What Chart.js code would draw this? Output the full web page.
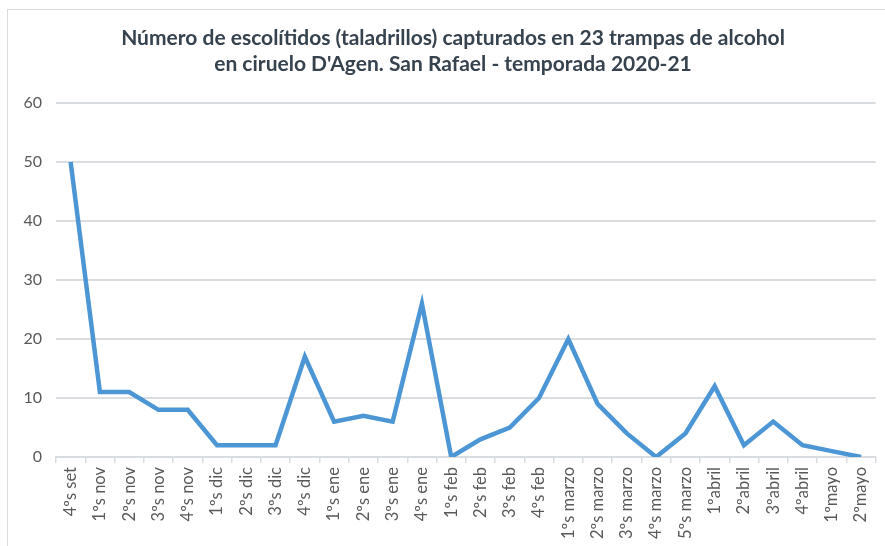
<!DOCTYPE html>
<html>
<head>
<meta charset="utf-8">
<script src="https://cdn.jsdelivr.net/npm/chart.js@4/dist/chart.umd.min.js"></script>
<style>
  html, body { margin: 0; padding: 0; background: #fff; }
  #wrap { position: relative; width: 885px; height: 546px; overflow: hidden; }
  #frame { position: absolute; left: 7px; top: 9px; width: 900px; height: 560px;
           border: 1.5px solid #d9dde2; box-sizing: border-box; }
  canvas { position: absolute; left: 0; top: 0; }
</style>
</head>
<body>
<div id="wrap">
  <div id="frame"></div>
  <canvas id="chart" width="885" height="546"></canvas>
</div>
<script>
// ── Data ─────────────────────────────────────
const weeks = [
  '4ºs set', '1ºs nov', '2ºs nov', '3ºs nov', '4ºs nov',
  '1ºs dic', '2ºs dic', '3ºs dic', '4ºs dic',
  '1ºs ene', '2ºs ene', '3ºs ene', '4ºs ene',
  '1ºs feb', '2ºs feb', '3ºs feb', '4ºs feb',
  '1ºs marzo', '2ºs marzo', '3ºs marzo', '4ºs marzo', '5ºs marzo',
  '1ºabril', '2ºabril', '3ºabril', '4ºabril',
  '1ºmayo', '2ºmayo'
];
const captures = [
  50, 11, 11, 8, 8,
  2, 2, 2, 17,
  6, 7, 6, 26,
  0, 3, 5, 10,
  20, 9, 4, 0, 4,
  12, 2, 6, 2,
  1, 0
];
const titleLines = [
  'Número de escolítidos (taladrillos) capturados en 23 trampas de alcohol',
  "en ciruelo D'Agen. San Rafael - temporada 2020-21"
];

const GRID = '#d9dde2';
const TEXT = '#595959';

// ── Chart ────────────────────────────────────
const ctx = document.getElementById('chart').getContext('2d');
new Chart(ctx, {
  type: 'line',
  data: {
    labels: weeks,
    datasets: [{
      data: captures,
      borderColor: '#4d96d5',
      borderWidth: 4.5,
      pointRadius: 0,
      tension: 0,
      fill: false
    }]
  },
  options: {
    responsive: false,
    animation: false,
    // negative right padding + empty right axis: moves the title centre right
    layout: { padding: { top: 0, right: -21, bottom: 0, left: 0 } },
    plugins: {
      legend: { display: false },
      tooltip: { enabled: false },
      title: {
        display: true,
        text: titleLines,
        color: '#36434f',
        font: { family: 'Lato', size: 21, weight: 'bold', lineHeight: 1.24 },
        padding: { top: 25, bottom: 26 }
      }
    },
    scales: {
      x: {
        offset: true,
        grid: {
          offset: true,
          drawOnChartArea: false,
          color: GRID,
          lineWidth: 1.5,
          tickLength: 6
        },
        border: { display: true, color: GRID, width: 2 },
        ticks: {
          color: TEXT,
          font: { family: 'Lato', size: 16.5 },
          minRotation: 90,
          maxRotation: 90,
          autoSkip: false,
          padding: 4
        },
        afterFit: s => { s.height = 89; }
      },
      y: {
        min: 0,
        max: 60,
        ticks: {
          stepSize: 10,
          color: TEXT,
          font: { family: 'Lato', size: 16 },
          padding: 14
        },
        grid: { color: GRID, lineWidth: 2, drawTicks: false },
        border: { display: false },
        afterFit: s => { s.width = 56; }
      },
      spacer: {
        type: 'linear',
        position: 'right',
        min: 0,
        max: 60,
        grid: { display: false },
        border: { display: false },
        ticks: { display: false },
        afterFit: s => { s.width = 30; }
      }
    }
  }
});
</script>
</body>
</html>
